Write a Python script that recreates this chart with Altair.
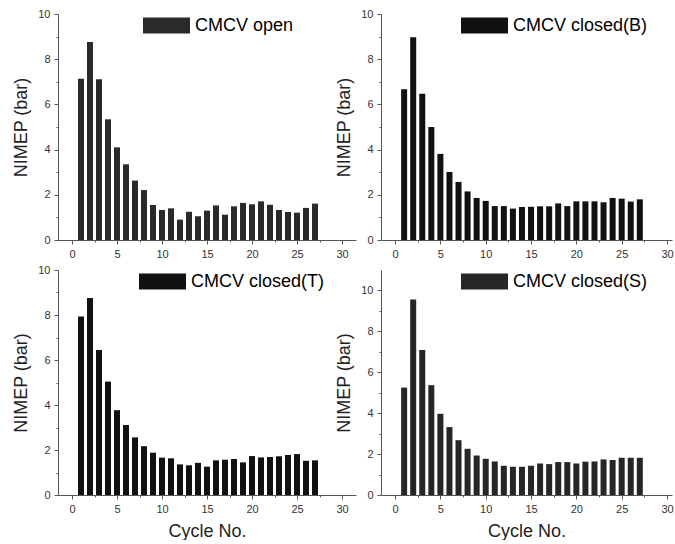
import altair as alt
import pandas as pd

cycles = list(range(1, 28))
cmcv_open = [7.14, 8.76, 7.11, 5.34, 4.10, 3.35, 2.63, 2.21, 1.55, 1.33, 1.40, 0.90, 1.25, 1.05,
             1.30, 1.53, 1.12, 1.49, 1.64, 1.58, 1.71, 1.56, 1.33, 1.24, 1.21, 1.42, 1.61]
cmcv_closed_b = [6.67, 8.97, 6.47, 5.00, 3.81, 3.01, 2.57, 2.15, 1.86, 1.73, 1.50, 1.50, 1.39, 1.46,
                 1.47, 1.49, 1.49, 1.62, 1.50, 1.71, 1.71, 1.71, 1.67, 1.86, 1.83, 1.70, 1.80]
cmcv_closed_t = [7.93, 8.76, 6.45, 5.04, 3.77, 3.11, 2.56, 2.17, 1.88, 1.66, 1.63, 1.36, 1.32, 1.43,
                 1.26, 1.54, 1.57, 1.60, 1.45, 1.73, 1.67, 1.69, 1.72, 1.78, 1.82, 1.52, 1.54]
cmcv_closed_s = [5.25, 9.56, 7.09, 5.37, 3.97, 3.32, 2.68, 2.26, 1.93, 1.77, 1.64, 1.43, 1.38, 1.38,
                 1.43, 1.54, 1.51, 1.61, 1.61, 1.54, 1.63, 1.64, 1.74, 1.71, 1.82, 1.82, 1.82]

x_ticks = [0, 5, 10, 15, 20, 25, 30]
x_minor = [2.5, 7.5, 12.5, 17.5, 22.5, 27.5]
y_ticks = [0, 2, 4, 6, 8, 10]
y_minor = [1, 3, 5, 7, 9]
FONT = "Liberation Sans"
RECT = "M-1,-0.34H1V0.34H-1Z"


def panel(vals, name, color, ymax, xmax, width, height, xtitle, lx):
    df = pd.DataFrame({"cycle": cycles, "nimep": vals, "series": name})
    xs = alt.Scale(domain=[-1, xmax], nice=False, zero=False)
    ys = alt.Scale(domain=[0, ymax], nice=False)
    bars = alt.Chart(df).mark_bar(size=6).encode(
        x=alt.X("cycle:Q", scale=xs,
                axis=alt.Axis(values=x_ticks, title=xtitle, titlePadding=8)),
        y=alt.Y("nimep:Q", scale=ys,
                axis=alt.Axis(values=y_ticks, title="NIMEP (bar)", titlePadding=7)),
        color=alt.Color("series:N",
                        scale=alt.Scale(domain=[name], range=[color]),
                        legend=alt.Legend(orient="none", legendX=lx, legendY=-12, title=None,
                                          symbolType=RECT, symbolSize=2209, symbolStrokeWidth=0,
                                          labelFontSize=18, labelFont=FONT, labelColor="black",
                                          labelOffset=5, padding=0, labelLimit=300)),
    )
    minor = alt.Chart(df).mark_point(opacity=0).encode(
        x=alt.X("cycle:Q", scale=xs,
                axis=alt.Axis(values=x_minor, labels=False, title=None, domain=False,
                              tickSize=2, orient="bottom")),
        y=alt.Y("nimep:Q", scale=ys,
                axis=alt.Axis(values=y_minor, labels=False, title=None, domain=False,
                              tickSize=2, orient="left")),
    )
    return alt.layer(bars, minor).resolve_axis(x="independent", y="independent").properties(
        width=width, height=height)


p1 = panel(cmcv_open, "CMCV open", "#2a2a2a", 10, 31, 298, 226, None, 85)
p2 = panel(cmcv_closed_b, "CMCV closed(B)", "#111111", 10, 30, 291, 226, None, 80)
p3 = panel(cmcv_closed_t, "CMCV closed(T)", "#111111", 10, 31, 298, 225, "Cycle No.", 81)
p4 = panel(cmcv_closed_s, "CMCV closed(S)", "#262626", 11, 30, 291, 225, "Cycle No.", 80)

chart = alt.concat(p1, p2, p3, p4, columns=2, spacing={"row": 30, "column": 25}, bounds="flush").resolve_scale(
    color="independent"
).properties(
    padding={"left": 12, "top": 2, "right": 0, "bottom": 0}
).configure_view(stroke=None).configure_axis(
    grid=False, domainColor="#555555", tickColor="#555555", tickSize=4,
    labelFont=FONT, labelFontSize=11, labelColor="#333333", labelPadding=4,
    titleFont=FONT, titleFontSize=18, titleFontWeight="normal", titleColor="#222222",
)

chart.save("out.html", embed_options={"renderer": "svg", "actions": False})
